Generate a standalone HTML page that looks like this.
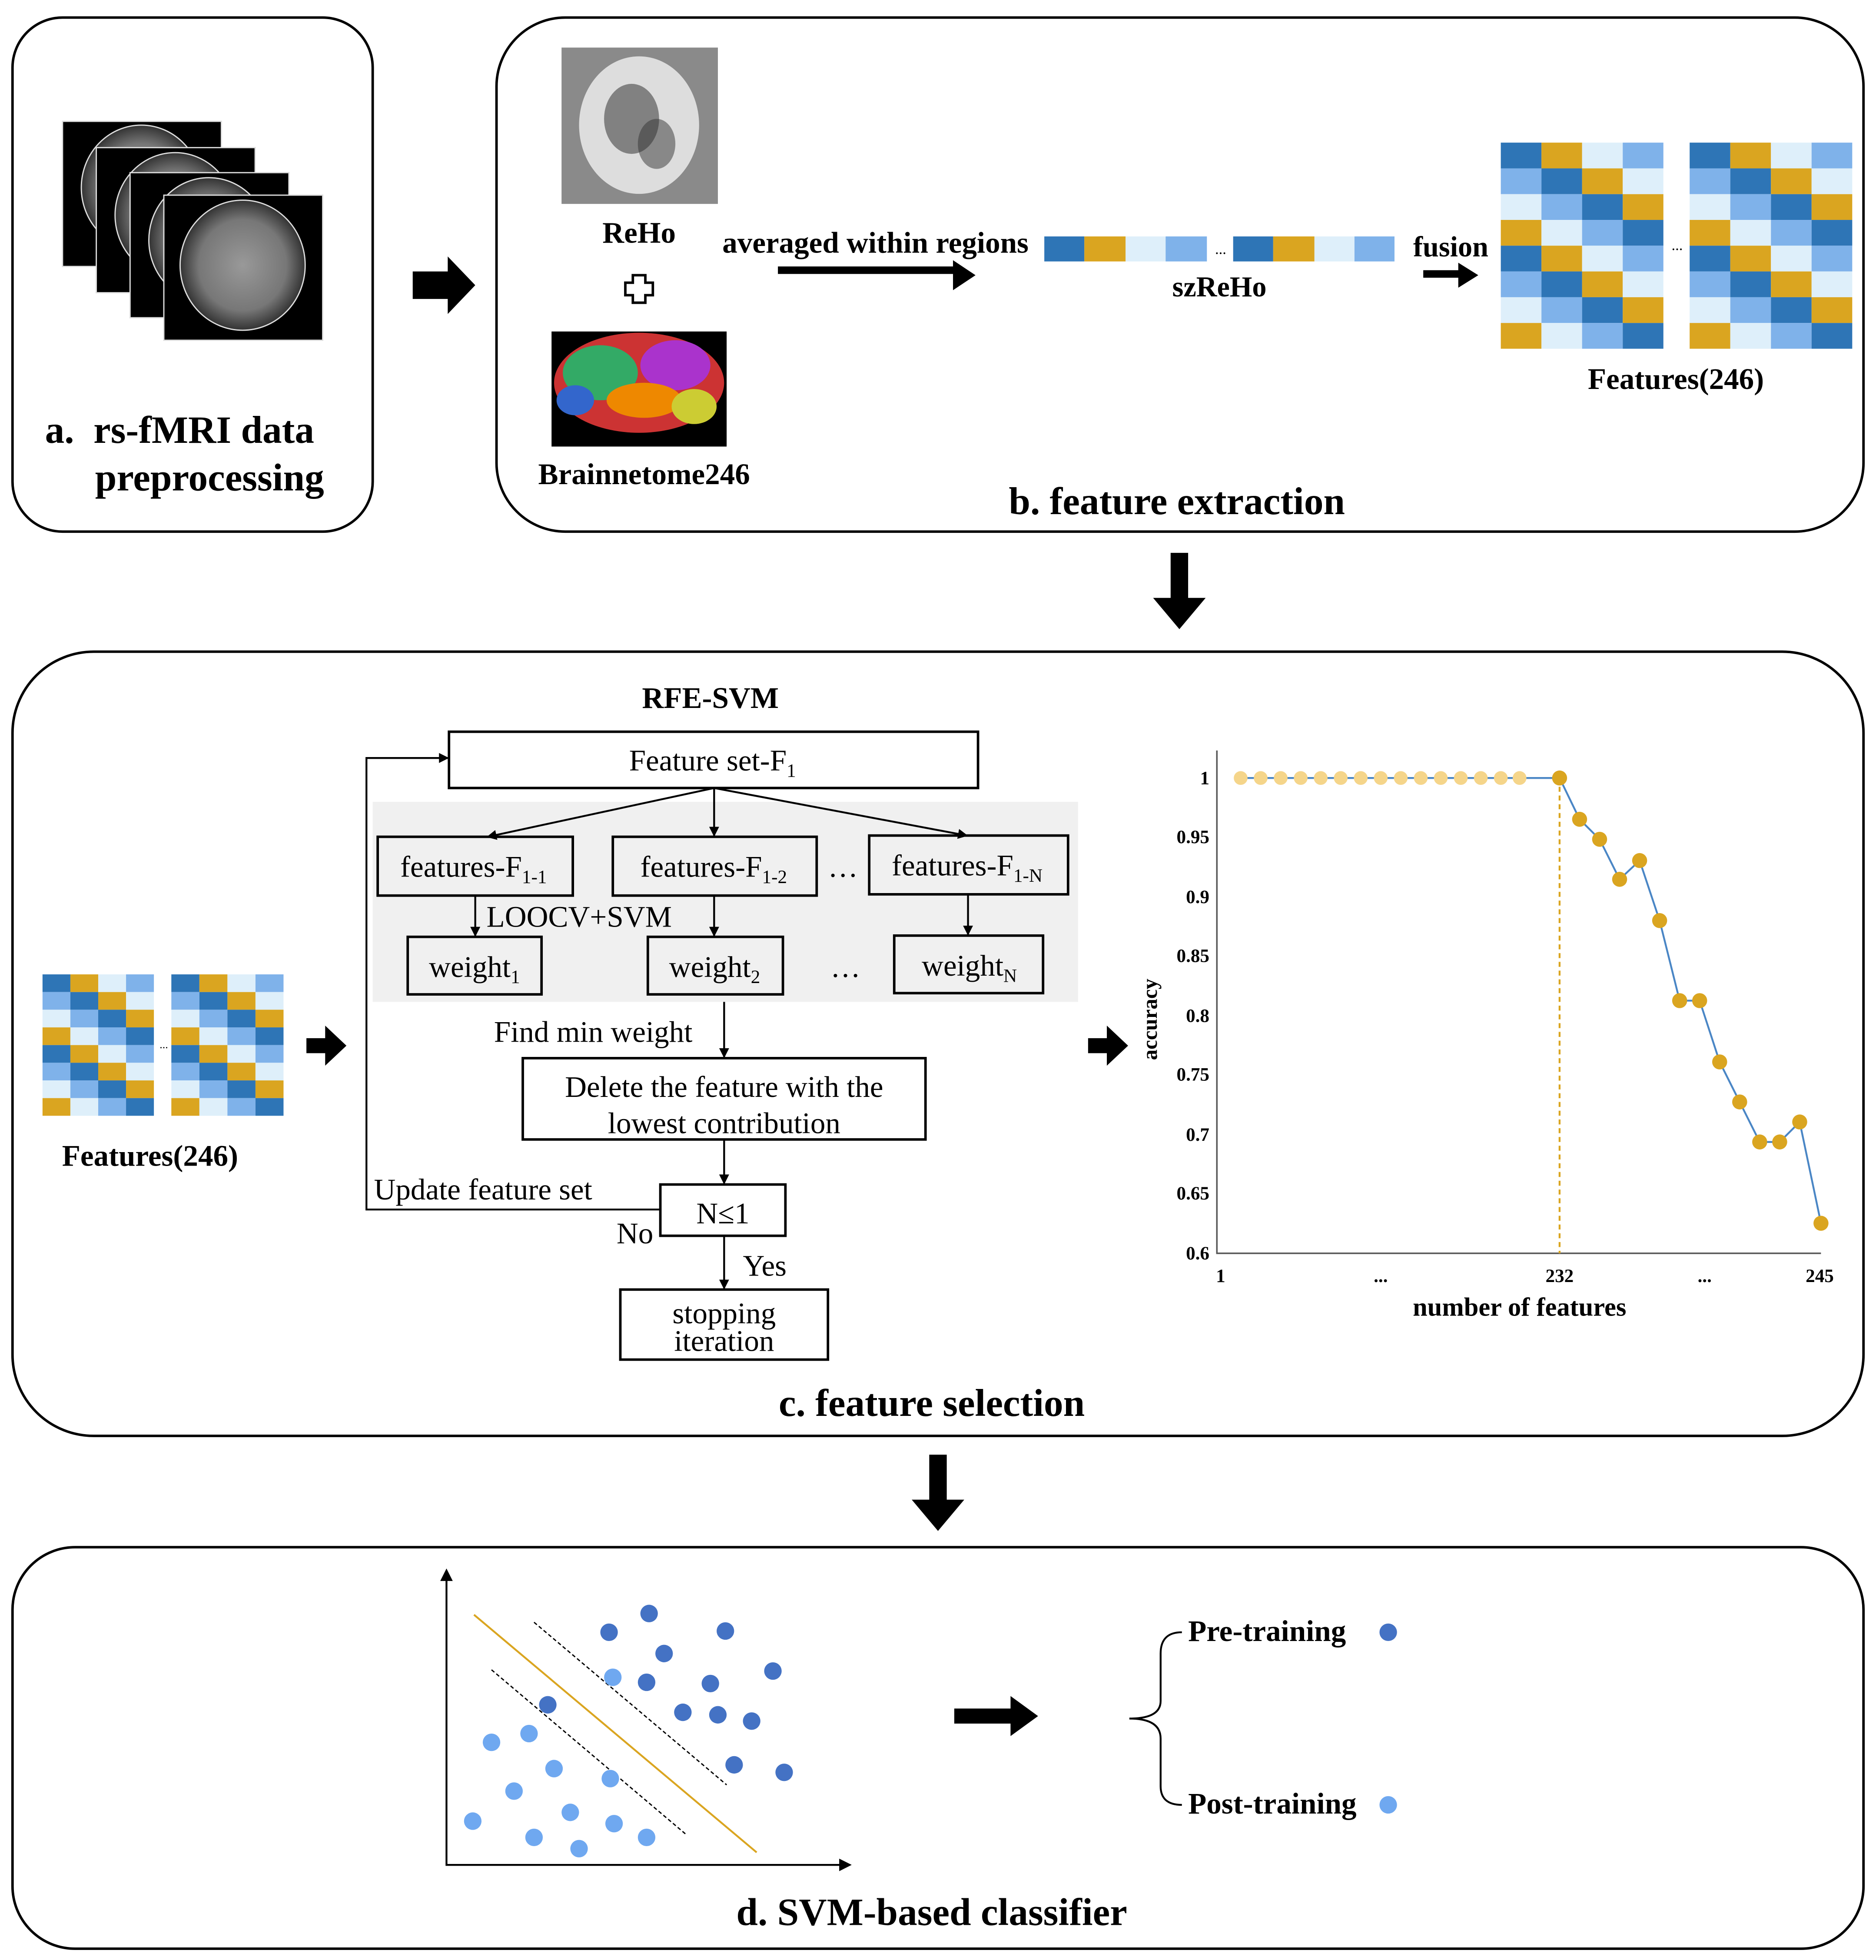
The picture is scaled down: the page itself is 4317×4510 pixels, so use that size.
<!DOCTYPE html>
<html><head><meta charset="utf-8"><style>html,body{margin:0;padding:0;background:#fff}svg{display:block}</style></head><body>
<svg width="4317" height="4510" viewBox="0 0 1500 1567" xmlns="http://www.w3.org/2000/svg" font-family="Liberation Serif, serif">
<defs>
<marker id="ah" markerWidth="8" markerHeight="8" refX="7" refY="4" orient="auto" markerUnits="userSpaceOnUse"><path d="M0,0 L8,4 L0,8 z" fill="#000"/></marker>
<radialGradient id="brain" cx="50%" cy="50%" r="50%"><stop offset="0" stop-color="#999"/><stop offset="0.7" stop-color="#777"/><stop offset="1" stop-color="#333"/></radialGradient>
<g id="grid4">
<rect x="0" y="0" width="32.5" height="20.6" fill="#2e75b6"/><rect x="32.5" y="0" width="32.5" height="20.6" fill="#daa520"/><rect x="65" y="0" width="32.5" height="20.6" fill="#deeffa"/><rect x="97.5" y="0" width="32.5" height="20.6" fill="#7fb2ea"/>
<rect x="0" y="20.6" width="32.5" height="20.6" fill="#7fb2ea"/><rect x="32.5" y="20.6" width="32.5" height="20.6" fill="#2e75b6"/><rect x="65" y="20.6" width="32.5" height="20.6" fill="#daa520"/><rect x="97.5" y="20.6" width="32.5" height="20.6" fill="#deeffa"/>
<rect x="0" y="41.2" width="32.5" height="20.6" fill="#deeffa"/><rect x="32.5" y="41.2" width="32.5" height="20.6" fill="#7fb2ea"/><rect x="65" y="41.2" width="32.5" height="20.6" fill="#2e75b6"/><rect x="97.5" y="41.2" width="32.5" height="20.6" fill="#daa520"/>
<rect x="0" y="61.8" width="32.5" height="20.6" fill="#daa520"/><rect x="32.5" y="61.8" width="32.5" height="20.6" fill="#deeffa"/><rect x="65" y="61.8" width="32.5" height="20.6" fill="#7fb2ea"/><rect x="97.5" y="61.8" width="32.5" height="20.6" fill="#2e75b6"/>
<rect x="0" y="82.4" width="32.5" height="20.6" fill="#2e75b6"/><rect x="32.5" y="82.4" width="32.5" height="20.6" fill="#daa520"/><rect x="65" y="82.4" width="32.5" height="20.6" fill="#deeffa"/><rect x="97.5" y="82.4" width="32.5" height="20.6" fill="#7fb2ea"/>
<rect x="0" y="103" width="32.5" height="20.6" fill="#7fb2ea"/><rect x="32.5" y="103" width="32.5" height="20.6" fill="#2e75b6"/><rect x="65" y="103" width="32.5" height="20.6" fill="#daa520"/><rect x="97.5" y="103" width="32.5" height="20.6" fill="#deeffa"/>
<rect x="0" y="123.6" width="32.5" height="20.6" fill="#deeffa"/><rect x="32.5" y="123.6" width="32.5" height="20.6" fill="#7fb2ea"/><rect x="65" y="123.6" width="32.5" height="20.6" fill="#2e75b6"/><rect x="97.5" y="123.6" width="32.5" height="20.6" fill="#daa520"/>
<rect x="0" y="144.2" width="32.5" height="20.6" fill="#daa520"/><rect x="32.5" y="144.2" width="32.5" height="20.6" fill="#deeffa"/><rect x="65" y="144.2" width="32.5" height="20.6" fill="#7fb2ea"/><rect x="97.5" y="144.2" width="32.5" height="20.6" fill="#2e75b6"/>
</g>
</defs>
<rect width="1500" height="1567" fill="#fff"/>
<g fill="none" stroke="#000" stroke-width="2">
<rect x="10" y="14" width="288" height="411" rx="40"/>
<rect x="397" y="14" width="1093" height="411" rx="55"/>
<rect x="10" y="521" width="1480" height="627" rx="65"/>
<rect x="10" y="1237" width="1480" height="321" rx="50"/>
</g>
<g stroke="#ddd" stroke-width="1">
<rect x="50" y="97" width="127" height="116" fill="#000"/><ellipse cx="113" cy="150" rx="48" ry="50" fill="url(#brain)"/>
<rect x="77" y="118" width="127" height="116" fill="#000"/><ellipse cx="140" cy="172" rx="48" ry="50" fill="url(#brain)"/>
<rect x="104" y="138" width="127" height="116" fill="#000"/><ellipse cx="167" cy="192" rx="48" ry="50" fill="url(#brain)"/>
<rect x="131" y="156" width="127" height="116" fill="#000"/><ellipse cx="194" cy="212" rx="50" ry="52" fill="url(#brain)"/>
</g>
<text x="36" y="354" font-size="31" font-weight="bold" xml:space="preserve">a.  rs-fMRI data</text>
<text x="76" y="392" font-size="31" font-weight="bold">preprocessing</text>
<path d="M330,217 h28 v-12 l22,23 l-22,23 v-12 h-28z" fill="#000"/>
<rect x="449" y="38" width="125" height="125" fill="#8a8a8a"/>
<ellipse cx="511" cy="100" rx="48" ry="55" fill="#ddd"/><ellipse cx="505" cy="95" rx="22" ry="28" fill="#444" opacity="0.6"/><ellipse cx="525" cy="115" rx="15" ry="20" fill="#333" opacity="0.5"/>
<text x="511" y="194" font-size="24" font-weight="bold" text-anchor="middle">ReHo</text>
<path d="M506,220 h10 v6 h6 v10 h-6 v6 h-10 v-6 h-6 v-10 h6z" fill="none" stroke="#000" stroke-width="2"/>
<rect x="441" y="265" width="140" height="92" fill="#000"/>
<ellipse cx="511" cy="306" rx="68" ry="40" fill="#c33"/>
<ellipse cx="480" cy="298" rx="30" ry="22" fill="#3a6"/><ellipse cx="540" cy="292" rx="28" ry="20" fill="#a3c"/><ellipse cx="515" cy="320" rx="30" ry="14" fill="#e80"/><ellipse cx="460" cy="320" rx="15" ry="12" fill="#36c"/><ellipse cx="555" cy="325" rx="18" ry="14" fill="#cc3"/>
<text x="515" y="387" font-size="24" font-weight="bold" text-anchor="middle">Brainnetome246</text>
<text x="700" y="202" font-size="24" font-weight="bold" text-anchor="middle">averaged within regions</text>
<path d="M622,216 H765" stroke="#000" stroke-width="6"/><path d="M762,208 l18,12 l-18,12z" fill="#000"/>
<rect x="835" y="189" width="32" height="20" fill="#2e75b6"/><rect x="867" y="189" width="33" height="20" fill="#daa520"/><rect x="900" y="189" width="32" height="20" fill="#deeffa"/><rect x="932" y="189" width="33" height="20" fill="#7fb2ea"/>
<text x="976" y="203" font-size="12" text-anchor="middle">...</text>
<rect x="986" y="189" width="32" height="20" fill="#2e75b6"/><rect x="1018" y="189" width="33" height="20" fill="#daa520"/><rect x="1051" y="189" width="32" height="20" fill="#deeffa"/><rect x="1083" y="189" width="32" height="20" fill="#7fb2ea"/>
<text x="975" y="237" font-size="23" font-weight="bold" text-anchor="middle">szReHo</text>
<text x="1160" y="205" font-size="23" font-weight="bold" text-anchor="middle">fusion</text>
<path d="M1138,219 H1170" stroke="#000" stroke-width="6"/><path d="M1166,210 l16,10 l-16,10z" fill="#000"/>
<use href="#grid4" x="1200" y="114"/><use href="#grid4" x="1351" y="114"/>
<text x="1341" y="200" font-size="12" text-anchor="middle">...</text>
<text x="1340" y="311" font-size="24" font-weight="bold" text-anchor="middle">Features(246)</text>
<text x="941" y="411" font-size="31" font-weight="bold" text-anchor="middle">b. feature extraction</text>
<path d="M936,442 h14 v36 h14 l-21,25 l-21,-25 h14z" fill="#000"/>
<use href="#grid4" transform="translate(34,779) scale(0.685,0.686)"/>
<use href="#grid4" transform="translate(137,779) scale(0.69,0.686)"/>
<text x="131" y="838" font-size="9" text-anchor="middle">...</text>
<text x="120" y="932" font-size="24" font-weight="bold" text-anchor="middle">Features(246)</text>
<path d="M245,830 h15 v-10 l17,16 l-17,16 v-10 h-15z" fill="#000"/>
<text x="568" y="566" font-size="24" font-weight="bold" text-anchor="middle">RFE-SVM</text>
<rect x="298" y="641" width="564" height="160" fill="#f0f0f0"/>
<g fill="none" stroke="#000" stroke-width="2">
<rect x="359" y="585" width="423" height="45" fill="#fff"/>
<rect x="302" y="669" width="156" height="47"/><rect x="490" y="669" width="163" height="47"/><rect x="695" y="668" width="159" height="47"/>
<rect x="326" y="749" width="107" height="46"/><rect x="518" y="749" width="108" height="46"/><rect x="715" y="748" width="119" height="46"/>
<rect x="418" y="846" width="322" height="65"/><rect x="528" y="947" width="100" height="41"/><rect x="496" y="1031" width="166" height="56"/>
</g>
<g stroke="#000" stroke-width="1.5" fill="none" marker-end="url(#ah)">
<path d="M571,630 L390,669"/><path d="M571,630 V668"/><path d="M571,630 L773,668"/>
<path d="M380,716 V748"/><path d="M571,716 V748"/><path d="M774,715 V747"/>
<path d="M579,801 V845"/><path d="M579,911 V946"/><path d="M579,988 V1030"/>
<path d="M528,967 H293 V606 H358"/>
</g>
<g font-size="24">
<text x="503" y="616">Feature set-F<tspan font-size="15" dy="5">1</tspan></text>
<text x="320" y="701">features-F<tspan font-size="15" dy="5">1-1</tspan></text>
<text x="512" y="701">features-F<tspan font-size="15" dy="5">1-2</tspan></text>
<text x="662" y="701">…</text>
<text x="713" y="700">features-F<tspan font-size="15" dy="5">1-N</tspan></text>
<text x="389" y="741">LOOCV+SVM</text>
<text x="343" y="781">weight<tspan font-size="15" dy="5">1</tspan></text>
<text x="535" y="781">weight<tspan font-size="15" dy="5">2</tspan></text>
<text x="664" y="781">…</text>
<text x="737" y="780">weight<tspan font-size="15" dy="5">N</tspan></text>
<text x="395" y="833">Find min weight</text>
<text x="579" y="877" text-anchor="middle">Delete the feature with the</text>
<text x="579" y="906" text-anchor="middle">lowest contribution</text>
<text x="299" y="959">Update feature set</text>
<text x="578" y="978" text-anchor="middle">N≤1</text>
<text x="493" y="994">No</text>
<text x="594" y="1020">Yes</text>
<text x="579" y="1058" text-anchor="middle">stopping</text>
<text x="579" y="1080" text-anchor="middle">iteration</text>
</g>
<path d="M870,830 h15 v-10 l17,16 l-17,16 v-10 h-15z" fill="#000"/>
<path d="M973,600 V1002 H1456" fill="none" stroke="#555" stroke-width="1.2"/>
<g font-size="15" font-weight="bold" text-anchor="end">
<text x="967" y="627">1</text><text x="967" y="674">0.95</text><text x="967" y="722">0.9</text><text x="967" y="769">0.85</text><text x="967" y="817">0.8</text><text x="967" y="864">0.75</text><text x="967" y="912">0.7</text><text x="967" y="959">0.65</text><text x="967" y="1007">0.6</text>
</g>
<g font-size="15" font-weight="bold" text-anchor="middle">
<text x="976" y="1025">1</text><text x="1104" y="1025">...</text><text x="1247" y="1025">232</text><text x="1363" y="1025">...</text><text x="1455" y="1025">245</text>
</g>
<text x="1215" y="1052" font-size="21" font-weight="bold" text-anchor="middle">number of features</text>
<text transform="translate(925,815) rotate(-90)" font-size="17" font-weight="bold" text-anchor="middle">accuracy</text>
<path d="M1247,622 V1002" stroke="#daa520" stroke-width="1.5" stroke-dasharray="4,3"/>
<path d="M992,622 H1247 L1263,655 L1279,671 L1295,703 L1311,688 L1327,736 L1343,800 L1359,800 L1375,849 L1391,881 L1407,913 L1423,913 L1439,897 L1456,978" fill="none" stroke="#4a86c5" stroke-width="1.5"/>
<g fill="#f5d58a"><circle cx="992" cy="622" r="5.5"/><circle cx="1008" cy="622" r="5.5"/><circle cx="1024" cy="622" r="5.5"/><circle cx="1040" cy="622" r="5.5"/><circle cx="1056" cy="622" r="5.5"/><circle cx="1072" cy="622" r="5.5"/><circle cx="1088" cy="622" r="5.5"/><circle cx="1104" cy="622" r="5.5"/><circle cx="1120" cy="622" r="5.5"/><circle cx="1136" cy="622" r="5.5"/><circle cx="1152" cy="622" r="5.5"/><circle cx="1168" cy="622" r="5.5"/><circle cx="1184" cy="622" r="5.5"/><circle cx="1200" cy="622" r="5.5"/><circle cx="1215" cy="622" r="5.5"/></g>
<g fill="#daa520"><circle cx="1247" cy="622" r="6"/><circle cx="1263" cy="655" r="6"/><circle cx="1279" cy="671" r="6"/><circle cx="1295" cy="703" r="6"/><circle cx="1311" cy="688" r="6"/><circle cx="1327" cy="736" r="6"/><circle cx="1343" cy="800" r="6"/><circle cx="1359" cy="800" r="6"/><circle cx="1375" cy="849" r="6"/><circle cx="1391" cy="881" r="6"/><circle cx="1407" cy="913" r="6"/><circle cx="1423" cy="913" r="6"/><circle cx="1439" cy="897" r="6"/><circle cx="1456" cy="978" r="6"/></g>
<text x="745" y="1132" font-size="31" font-weight="bold" text-anchor="middle">c. feature selection</text>
<path d="M743,1163 h14 v36 h14 l-21,25 l-21,-25 h14z" fill="#000"/>
<path d="M357,1260 V1491 H675" fill="none" stroke="#000" stroke-width="1.5"/>
<path d="M352,1264 l5,-10 l5,10z M671,1486 l10,5 l-10,5z" fill="#000"/>
<path d="M379,1291 L605,1481" stroke="#daa520" stroke-width="1.5"/>
<path d="M427,1297 L581,1427 M393,1335 L549,1467" stroke="#000" stroke-width="1" stroke-dasharray="3,2"/>
<g fill="#4472c4"><circle cx="519" cy="1290" r="7"/><circle cx="487" cy="1305" r="7"/><circle cx="580" cy="1304" r="7"/><circle cx="531" cy="1322" r="7"/><circle cx="618" cy="1336" r="7"/><circle cx="517" cy="1345" r="7"/><circle cx="568" cy="1346" r="7"/><circle cx="438" cy="1363" r="7"/><circle cx="546" cy="1369" r="7"/><circle cx="574" cy="1371" r="7"/><circle cx="601" cy="1376" r="7"/><circle cx="587" cy="1411" r="7"/><circle cx="627" cy="1417" r="7"/><circle cx="1110" cy="1305" r="7"/></g>
<g fill="#6fa8f0"><circle cx="490" cy="1341" r="7"/><circle cx="393" cy="1393" r="7"/><circle cx="423" cy="1386" r="7"/><circle cx="443" cy="1414" r="7"/><circle cx="488" cy="1422" r="7"/><circle cx="411" cy="1432" r="7"/><circle cx="456" cy="1449" r="7"/><circle cx="378" cy="1456" r="7"/><circle cx="491" cy="1458" r="7"/><circle cx="427" cy="1469" r="7"/><circle cx="517" cy="1469" r="7"/><circle cx="463" cy="1478" r="7"/><circle cx="1110" cy="1443" r="7"/></g>
<path d="M763,1366 h45 v-10 l22,16 l-22,16 v-10 h-45z" fill="#000"/>
<path d="M945,1305 Q928,1305 928,1322 V1360 Q928,1374 903,1374 Q928,1374 928,1390 V1428 Q928,1443 945,1443" fill="none" stroke="#000" stroke-width="1.5"/>
<text x="950" y="1312" font-size="24" font-weight="bold">Pre-training</text>
<text x="950" y="1450" font-size="24" font-weight="bold">Post-training</text>
<text x="745" y="1539" font-size="31" font-weight="bold" text-anchor="middle">d. SVM-based classifier</text>
</svg>
</body></html>
